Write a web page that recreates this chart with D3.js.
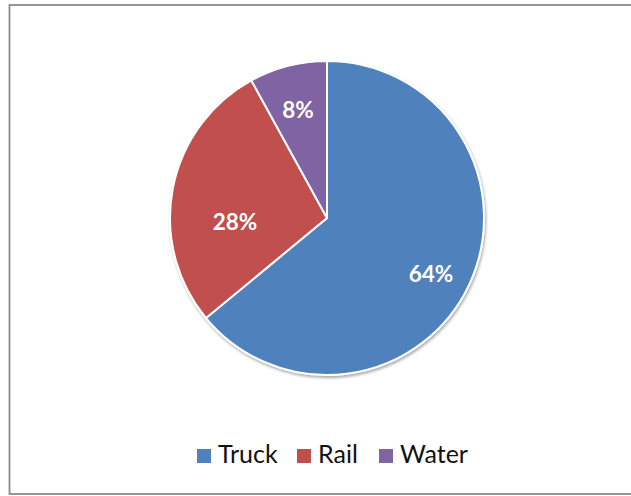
<!DOCTYPE html>
<html>
<head>
<meta charset="utf-8">
<script src="https://cdn.jsdelivr.net/npm/d3@7"></script>
<style>
  html, body { margin: 0; padding: 0; background: #fff; }
  svg { display: block; }
</style>
</head>
<body>
<svg id="chart" width="631" height="496"></svg>
<script>
const categories = ["Truck", "Rail", "Water"];
const shares = [64, 28, 8];
const labels = ["64%", "28%", "8%"];
const colors = ["#4f81bd", "#c0504d", "#8064a2"];

// label placement (radius fraction, angle shift in degrees)
const labelRadiusFrac = [0.752, 0.587, 0.712];
const labelAngleShift = [3.1, -13.3, -0.6];

const svg = d3.select("#chart");

// outer frame
svg.append("rect")
  .attr("x", 9.5).attr("y", 5)
  .attr("width", 640).attr("height", 489)
  .attr("fill", "#fff")
  .attr("stroke", "#8a8a8a")
  .attr("stroke-width", 1.8);

const cx = 327, cy = 218, r = 157;

const defs = svg.append("defs");
const f = defs.append("filter").attr("id", "sh").attr("x", "-20%").attr("y", "-20%").attr("width", "140%").attr("height", "140%");
f.append("feGaussianBlur").attr("in", "SourceAlpha").attr("stdDeviation", 1.5);
f.append("feOffset").attr("dx", 1).attr("dy", 1.5).attr("result", "b");
f.append("feComponentTransfer").append("feFuncA").attr("type", "linear").attr("slope", 0.35);
const m = f.append("feMerge");
m.append("feMergeNode");
m.append("feMergeNode").attr("in", "SourceGraphic");

const pie = d3.pie().sort(null).value(d => d)(shares);
const arc = d3.arc().innerRadius(0).outerRadius(r);

const g = svg.append("g").attr("transform", `translate(${cx},${cy})`);
g.append("g").attr("filter", "url(#sh)")
  .selectAll("path").data(pie).join("path")
  .attr("d", arc)
  .attr("fill", (d, i) => colors[i])
  .attr("stroke", "#fff")
  .attr("stroke-width", 2)
  .attr("stroke-linejoin", "round");

g.selectAll("text.lbl").data(pie).join("text")
  .attr("class", "lbl")
  .attr("transform", (d, i) => {
    const a = (d.startAngle + d.endAngle) / 2 + labelAngleShift[i] * Math.PI / 180;
    const rr = r * labelRadiusFrac[i];
    return `translate(${rr * Math.sin(a)},${-rr * Math.cos(a)})`;
  })
  .attr("text-anchor", "middle")
  .attr("dy", "0.36em")
  .attr("fill", "#fff")
  .attr("font-family", "Lato, 'Open Sans', sans-serif")
  .attr("font-weight", "bold")
  .attr("font-size", 22.5)
  .text((d, i) => labels[i]);

// legend
const legendX = [197, 297, 379];
const lg = svg.append("g");
categories.forEach((c, i) => {
  lg.append("rect")
    .attr("x", legendX[i]).attr("y", 449)
    .attr("width", 14).attr("height", 14)
    .attr("fill", colors[i]);
  lg.append("text")
    .attr("x", legendX[i] + 21).attr("y", 463)
    .attr("fill", "#111")
    .attr("font-family", "Lato, 'Open Sans', sans-serif")
    .attr("font-size", 25)
    .text(c);
});
</script>
</body>
</html>
